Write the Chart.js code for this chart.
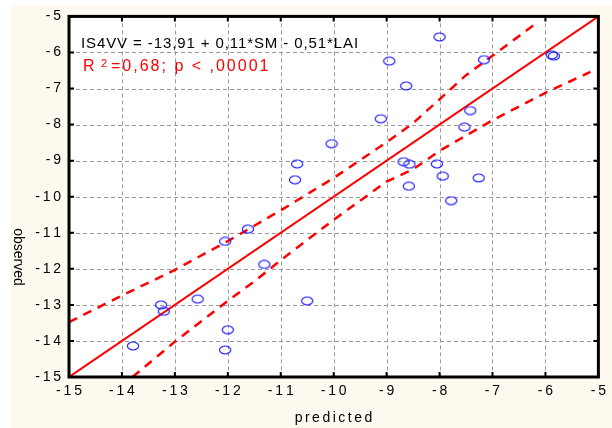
<!DOCTYPE html>
<html><head><meta charset="utf-8">
<script src="https://cdn.jsdelivr.net/npm/chart.js@4"></script>
<style>html,body{margin:0;padding:0;background:#fff}#wrap{width:612px;height:428px}</style>
</head><body><div id="wrap"><canvas id="c" width="612" height="428"></canvas></div>
<script>
// ---- data ----
const predicted = [-8.0, -8.95, -7.16, -5.88, -5.84, -8.63, -7.42, -9.11, -7.53, -10.04, -8.68, -8.57, -8.05, -7.94, -7.26, -8.58, -7.78, -10.69, -10.73, -11.62, -12.05, -11.31, -12.57, -13.26, -13.21, -12.0, -12.05, -13.79, -10.50];
const observed  = [-5.57, -6.24, -6.20, -6.07, -6.10, -6.93, -7.61, -7.84, -8.07, -8.53, -9.03, -9.10, -9.09, -9.43, -9.48, -9.71, -10.11, -9.09, -9.53, -10.90, -11.24, -11.88, -12.84, -13.0, -13.18, -13.69, -14.25, -14.14, -12.89];
const fitX = [-15, -5];
const fitY = [-15, -5];
const upperX = [-15, -14, -13, -12, -11, -10, -9, -8.5, -8, -7.5, -7, -6.2];
const upperY = [-13.48, -12.74, -12.03, -11.23, -10.38, -9.48, -8.49, -7.96, -7.3, -6.63, -6.09, -5.22];
const lowerX = [-13.8, -13, -12, -11.5, -11, -10, -9, -8.5, -8, -7, -6.5, -6, -5.15];
const lowerY = [-15, -14.02, -12.89, -12.35, -11.76, -10.64, -9.58, -9.24, -8.73, -7.88, -7.5, -7.12, -6.54];
const axisMin = -15, axisMax = -5, axisStep = 1;
const xTitle = 'predicted';
const yTitle = 'observed';
const equationText = 'IS4VV = -13,91 + 0,11*SM - 0,51*LAI';
const statsText = ['R', '2', '=0,68; p < ,00001'];

const zip = (xs, ys) => xs.map((x, i) => ({x, y: ys[i]}));

// ellipse marker
const mk = document.createElement('canvas');
mk.width = 14; mk.height = 10;
(function(){
  const g = mk.getContext('2d');
  g.strokeStyle = '#1e1eff'; g.lineWidth = 1.2;
  g.beginPath(); g.ellipse(7, 5, 5.6, 4, 0, 0, Math.PI * 2); g.stroke();
})();

const spaced = v => String(v).split('').join('\u2009');
const FONT = '"Liberation Sans", Arial, sans-serif';
const tickValues = [];
for (let v = axisMin; v <= axisMax; v += axisStep) tickValues.push(v);

const deco = {
  id: 'deco',
  beforeDraw(chart) {
    const ctx = chart.ctx, a = chart.chartArea;
    const xs = chart.scales.x, ys = chart.scales.y;
    ctx.save();
    ctx.fillStyle = '#ffffff'; ctx.fillRect(0, 0, chart.width, chart.height);
    ctx.fillStyle = '#fdf9ee'; ctx.fillRect(11, 5, chart.width - 11, chart.height - 5);
    ctx.fillStyle = '#ffffff'; ctx.fillRect(a.left, a.top, a.right - a.left, a.bottom - a.top);
    // dashed grid
    ctx.fillStyle = '#9a9a9a';
    tickValues.forEach(v => {
      const px = Math.round(xs.getPixelForValue(v));
      for (let y = a.top; y < a.bottom; y += 7) ctx.fillRect(px, y, 1, Math.min(4, a.bottom - y));
      const py = Math.round(ys.getPixelForValue(v));
      for (let x = a.left; x < a.right; x += 7) ctx.fillRect(x, py, Math.min(4, a.right - x), 1);
    });
    ctx.restore();
  },
  afterDraw(chart) {
    const ctx = chart.ctx, a = chart.chartArea;
    const xs = chart.scales.x, ys = chart.scales.y;
    ctx.save();
    // inward ticks
    ctx.strokeStyle = '#000'; ctx.lineWidth = 2;
    ctx.beginPath();
    tickValues.forEach(v => {
      const p = xs.getPixelForValue(v);
      ctx.moveTo(p, a.bottom); ctx.lineTo(p, a.bottom - 5);
      ctx.moveTo(p, a.top); ctx.lineTo(p, a.top + 5);
      const q = ys.getPixelForValue(v);
      ctx.moveTo(a.left, q); ctx.lineTo(a.left + 5, q);
      ctx.moveTo(a.right, q); ctx.lineTo(a.right - 5, q);
    });
    ctx.stroke();
    // frame
    ctx.lineWidth = 3;
    ctx.strokeRect(a.left, a.top, a.right - a.left, a.bottom - a.top);

    // texts
    ctx.fillStyle = '#000';
    ctx.textBaseline = 'alphabetic';
    ctx.textAlign = 'left';
    ctx.font = '15px ' + FONT;
    ctx.letterSpacing = '0.9px';
    ctx.fillText(equationText, 81, 48);

    ctx.fillStyle = '#ff0000';
    ctx.font = '16px ' + FONT;
    ctx.letterSpacing = '0px';
    ctx.fillText(statsText[0], 83, 71);
    ctx.font = '11px ' + FONT;
    ctx.fillText(statsText[1], 101, 67);
    ctx.font = '16px ' + FONT;
    ctx.letterSpacing = '2px';
    ctx.fillText(statsText[2], 111, 71);

    // axis titles
    ctx.fillStyle = '#000';
    ctx.font = '14px ' + FONT;
    ctx.textAlign = 'center';
    ctx.textBaseline = 'middle';
    ctx.letterSpacing = '2.5px';
    ctx.fillText(xTitle, (a.left + a.right) / 2 + 1, 418);
    ctx.letterSpacing = '0px';
    ctx.translate(18, 257);
    ctx.rotate(Math.PI / 2);
    ctx.fillText(yTitle, 0, 0);
    ctx.restore();
  }
};

const tickFont = {family: FONT, size: 14};

new Chart(document.getElementById('c'), {
  type: 'scatter',
  data: {
    datasets: [
      {label: 'obs', data: zip(predicted, observed), pointStyle: mk, pointRadius: 5, showLine: false, order: 0},
      {label: 'fit', data: zip(fitX, fitY), showLine: true, borderColor: '#ff0000', borderWidth: 2, pointRadius: 0, order: 1},
      {label: 'upper', data: zip(upperX, upperY), showLine: true, borderColor: '#ff0000', borderWidth: 2.5, borderDash: [9, 7], pointRadius: 0, order: 1},
      {label: 'lower', data: zip(lowerX, lowerY), showLine: true, borderColor: '#ff0000', borderWidth: 2.5, borderDash: [9, 7], pointRadius: 0, order: 1}
    ]
  },
  options: {
    responsive: false,
    devicePixelRatio: 1,
    animation: false,
    layout: {padding: {top: 13, right: 7, left: 0, bottom: 0}},
    plugins: {legend: {display: false}, tooltip: {enabled: false}},
    scales: {
      x: {
        type: 'linear', min: axisMin, max: axisMax,
        afterFit: s => { s.height = 51; },
        grid: {display: false, drawTicks: false},
        border: {display: false},
        ticks: {stepSize: axisStep, padding: 6, color: '#000', font: tickFont, maxRotation: 0, callback: v => spaced(v)}
      },
      y: {
        type: 'linear', min: axisMin, max: axisMax,
        afterFit: s => { s.width = 69; },
        grid: {display: false, drawTicks: false},
        border: {display: false},
        ticks: {stepSize: axisStep, padding: 8, color: '#000', font: tickFont, callback: v => spaced(v)}
      }
    }
  },
  plugins: [deco]
});
</script>
</body></html>
